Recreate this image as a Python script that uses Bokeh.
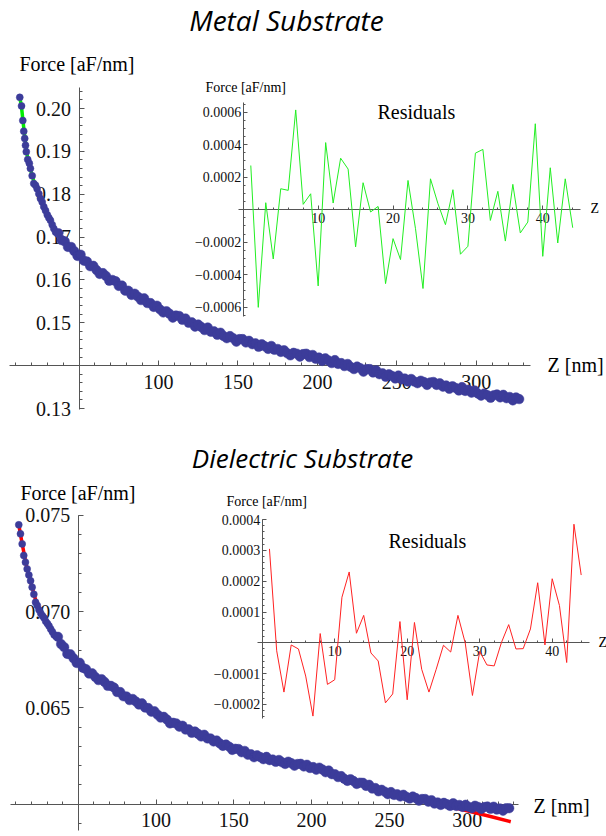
from bokeh.plotting import figure
from bokeh.layouts import column
from bokeh.models import (LinearAxis, FixedTicker, PrintfTickFormatter,
                          CustomJSTickFormatter, Range1d, Label, ColumnDataSource)
from bokeh.embed import file_html
from bokeh.resources import INLINE

# ---------------- data: Metal substrate ----------------
metal_z = [12.7, 13.8, 14.6, 15.2, 15.8, 16.3, 16.8, 17.7, 18.7, 19.4, 20.5, 21.5, 22.6,
           23.6, 24.7, 25.7, 26.8, 27.8, 28.9, 30.0, 31.0, 32.0, 33.1, 34.1, 35.2,
           37, 39, 41, 43, 45, 47, 49, 51, 53, 55, 57, 59, 61, 63, 65, 67, 69, 71, 73, 75,
           77, 79, 81, 83, 85, 87, 89, 91, 93, 95, 97, 99, 101, 103, 105, 107, 109, 111, 113, 115,
           117, 119, 121, 123, 125, 127, 129, 131, 133, 135, 137, 139, 141, 143, 145, 147, 149, 151, 153, 155,
           157, 159, 161, 163, 165, 167, 169, 171, 173, 175, 177, 179, 181, 183, 185, 187, 189, 191, 193, 195,
           197, 199, 201, 203, 205, 207, 209, 211, 213, 215, 217, 219, 221, 223, 225, 227, 229, 231, 233, 235,
           237, 239, 241, 243, 245, 247, 249, 251, 253, 255, 257, 259, 261, 263, 265, 267, 269, 271, 273, 275,
           277, 279, 281, 283, 285, 287, 289, 291, 293, 295, 297, 299, 301, 303, 305, 307, 309, 311, 313, 315,
           317, 319, 321, 323, 325, 327]
metal_force = [0.2026, 0.2006, 0.1972, 0.1947, 0.1930, 0.1914, 0.1899, 0.1881, 0.1872, 0.1860, 0.1843, 0.1825, 0.1821,
               0.1813, 0.1801, 0.1790, 0.1782, 0.1771, 0.1762, 0.1752, 0.1745, 0.1739, 0.1729, 0.1720, 0.1712,
               0.1709, 0.1693, 0.1690, 0.1677, 0.1677, 0.1667, 0.1656, 0.1659, 0.1645, 0.1643, 0.1632, 0.1633, 0.1623, 0.1614, 0.1616, 0.1609, 0.1598, 0.1600, 0.1597, 0.1586,
               0.1587, 0.1575, 0.1575, 0.1565, 0.1568, 0.1561, 0.1553, 0.1557, 0.1546, 0.1546, 0.1537, 0.1540, 0.1531, 0.1524, 0.1527, 0.1521, 0.1512, 0.1517, 0.1516, 0.1507,
               0.1510, 0.1500, 0.1501, 0.1491, 0.1496, 0.1490, 0.1483, 0.1489, 0.1479, 0.1480, 0.1472, 0.1477, 0.1469, 0.1464, 0.1469, 0.1464, 0.1456, 0.1462, 0.1462, 0.1454,
               0.1458, 0.1450, 0.1452, 0.1444, 0.1450, 0.1445, 0.1439, 0.1446, 0.1437, 0.1439, 0.1432, 0.1436, 0.1429, 0.1424, 0.1430, 0.1428, 0.1421, 0.1427, 0.1428, 0.1420,
               0.1425, 0.1416, 0.1419, 0.1411, 0.1417, 0.1412, 0.1406, 0.1413, 0.1404, 0.1406, 0.1399, 0.1404, 0.1397, 0.1392, 0.1398, 0.1394, 0.1386, 0.1392, 0.1392, 0.1384,
               0.1389, 0.1380, 0.1382, 0.1374, 0.1380, 0.1376, 0.1370, 0.1377, 0.1368, 0.1370, 0.1363, 0.1369, 0.1363, 0.1359, 0.1365, 0.1362, 0.1355, 0.1361, 0.1362, 0.1355,
               0.1359, 0.1351, 0.1354, 0.1346, 0.1352, 0.1348, 0.1342, 0.1350, 0.1341, 0.1344, 0.1337, 0.1342, 0.1335, 0.1330, 0.1335, 0.1331, 0.1325, 0.1331, 0.1333, 0.1326,
               0.1332, 0.1324, 0.1327, 0.1319, 0.1326, 0.1322]
metal_fit_z = [12.7, 13.8, 14.6, 15.5, 16.5, 17.5, 18.5, 19.5, 20.5, 22, 24, 26, 28, 30, 33, 36, 40, 45, 50, 55, 60,
               70, 80, 90, 100, 110, 120, 140, 160, 180, 200, 220, 240, 260, 280, 300, 315, 328]
metal_fit = [0.2027, 0.2003, 0.1975, 0.1945, 0.1913, 0.1888, 0.1871, 0.1857, 0.1843, 0.1825, 0.1808, 0.1789, 0.1770,
             0.1753, 0.1730, 0.1708, 0.1690, 0.1674, 0.1655, 0.1641, 0.1626, 0.1601, 0.1576, 0.1554, 0.1534, 0.1516,
             0.1502, 0.1472, 0.1452, 0.1432, 0.1418, 0.1399, 0.1383, 0.1365, 0.1354, 0.1337, 0.1328, 0.1321]
metal_res_i = list(range(1, 45))
metal_res = [0.000272, -0.000601, 0.000043, -0.000303, 0.000129, 0.000119, 0.000614, 0.000033, 0.000098, -0.000469,
             0.000413, 0.000041, 0.000317, 0.000250, -0.000229, 0.000166, -0.000014, 0.000020, -0.000455, -0.000178,
             -0.000307, 0.000180, -0.000117, -0.000485, 0.000190, 0.000037, -0.000092, 0.000123, -0.000274, -0.000225,
             0.000348, 0.000371, -0.000066, 0.000113, -0.000193, 0.000156, -0.000143, -0.000076, 0.000529, -0.000287,
             0.000258, -0.000205, 0.000190, -0.000111]

# ---------------- data: Dielectric substrate ----------------
diel_z = [11.8, 12.9, 14.0, 15.0, 16.1, 17.2, 18.3, 19.4, 20.4, 21.5, 22.6, 23.7, 24.8, 25.9, 27.0, 28.0,
          29.1, 30.2, 31.2, 32.3, 33.4, 34.5, 35.6,
          37, 39, 41, 43, 45, 47, 49, 51, 53, 55, 57, 59, 61, 63, 65, 67, 69, 71, 73, 75,
          77, 79, 81, 83, 85, 87, 89, 91, 93, 95, 97, 99, 101, 103, 105, 107, 109, 111, 113, 115,
          117, 119, 121, 123, 125, 127, 129, 131, 133, 135, 137, 139, 141, 143, 145, 147, 149, 151, 153, 155,
          157, 159, 161, 163, 165, 167, 169, 171, 173, 175, 177, 179, 181, 183, 185, 187, 189, 191, 193, 195,
          197, 199, 201, 203, 205, 207, 209, 211, 213, 215, 217, 219, 221, 223, 225, 227, 229, 231, 233, 235,
          237, 239, 241, 243, 245, 247, 249, 251, 253, 255, 257, 259, 261, 263, 265, 267, 269, 271, 273, 275,
          277, 279, 281, 283, 285, 287, 289, 291, 293, 295, 297, 299, 301, 303, 305, 307, 309, 311, 313, 315,
          317, 319, 321, 323, 325, 327]
diel_force = [0.07451, 0.07404, 0.07352, 0.07292, 0.07257, 0.07222, 0.07190, 0.07160, 0.07127, 0.07090, 0.07049,
              0.07032, 0.07010, 0.06992, 0.06978, 0.06968, 0.06950, 0.06938, 0.06926, 0.06910, 0.06895, 0.06880, 0.06872,
              0.06869, 0.06831, 0.06815, 0.06780, 0.06778, 0.06757, 0.06733, 0.06734, 0.06708, 0.06701, 0.06678, 0.06679, 0.06660, 0.06644, 0.06649, 0.06634, 0.06614, 0.06614, 0.06605, 0.06582,
              0.06582, 0.06560, 0.06559, 0.06540, 0.06546, 0.06533, 0.06517, 0.06523, 0.06501, 0.06499, 0.06480, 0.06482, 0.06464, 0.06449, 0.06453, 0.06439, 0.06419, 0.06422, 0.06419, 0.06402,
              0.06407, 0.06387, 0.06388, 0.06370, 0.06377, 0.06365, 0.06351, 0.06360, 0.06341, 0.06341, 0.06325, 0.06330, 0.06315, 0.06302, 0.06309, 0.06298, 0.06281, 0.06287, 0.06286, 0.06269,
              0.06276, 0.06256, 0.06259, 0.06243, 0.06253, 0.06244, 0.06233, 0.06245, 0.06228, 0.06231, 0.06219, 0.06229, 0.06217, 0.06208, 0.06220, 0.06212, 0.06199, 0.06208, 0.06209, 0.06195,
              0.06204, 0.06187, 0.06192, 0.06178, 0.06189, 0.06179, 0.06165, 0.06174, 0.06155, 0.06155, 0.06140, 0.06145, 0.06131, 0.06120, 0.06129, 0.06119, 0.06104, 0.06111, 0.06110, 0.06094,
              0.06100, 0.06080, 0.06083, 0.06066, 0.06074, 0.06064, 0.06051, 0.06062, 0.06047, 0.06051, 0.06039, 0.06048, 0.06037, 0.06028, 0.06039, 0.06031, 0.06017, 0.06026, 0.06026, 0.06012,
              0.06020, 0.06002, 0.06008, 0.05995, 0.06006, 0.05999, 0.05990, 0.06004, 0.05990, 0.05995, 0.05985, 0.05996, 0.05985, 0.05978, 0.05991, 0.05985, 0.05974, 0.05984, 0.05987, 0.05975,
              0.05986, 0.05971, 0.05977, 0.05965, 0.05978, 0.05978]
diel_fit_z = [11.8, 14, 17, 20, 23, 26, 30, 35, 40, 45, 50, 55, 60, 70, 80, 90, 100, 110, 120, 140, 160,
              180, 200, 220, 240, 260, 280, 300, 315, 328]
diel_fit = [0.07452, 0.07352, 0.07228, 0.07138, 0.07050, 0.06992, 0.06938, 0.06875, 0.06825, 0.06773, 0.06730,
            0.06697, 0.06667, 0.06615, 0.06562, 0.06519, 0.06470, 0.06424, 0.06390, 0.06322, 0.06262, 0.06220,
            0.06183, 0.06134, 0.06085, 0.06040, 0.06002, 0.05965, 0.05935, 0.05908]
diel_res_i = list(range(1, 45))
diel_res = [0.000305, -0.000026, -0.000160, -0.000007, -0.000020, -0.000108, -0.000238, 0.000030, -0.000135, -0.000120,
            0.000148, 0.000230, 0.000031, 0.000089, -0.000033, -0.000059, -0.000195, -0.000166, 0.000069, -0.000185,
            0.000066, -0.000086, -0.000160, -0.000086, -0.000008, -0.000030, 0.000089, 0.000000, -0.000171, -0.000028,
            -0.000072, -0.000075, 0.000001, 0.000059, -0.000020, -0.000019, 0.000045, 0.000195, -0.000007, 0.000208,
            0.000121, -0.000064, 0.000385, 0.000220]

# tick labels
metal_x_ticks = [100, 150, 200, 250, 300]
metal_y_ticks = [0.13, 0.15, 0.16, 0.17, 0.18, 0.19, 0.20]
metal_res_yticks = [-0.0006, -0.0004, -0.0002, 0.0002, 0.0004, 0.0006]
diel_x_ticks = [100, 150, 200, 250, 300]
diel_y_ticks = [0.065, 0.070, 0.075]
diel_res_yticks = [-0.0002, -0.0001, 0.0001, 0.0002, 0.0003, 0.0004]
res_x_ticks = [10, 20, 30, 40]

# ---------------- styling / layout ----------------
W = 606
H1 = 426          # top panel height (page y 0..426)
H2 = 836 - H1     # bottom panel height
DOT = "#3c3c9a"
AX = "#555555"
SERIF = "Liberation Serif"


def xmap(p0, v0, s):
    return lambda px: v0 + (px - p0) / s


def ymap(p0, v0, s, off=0):
    # p0 is a page pixel row; off is the panel's top on the page
    return lambda py: v0 - (py - (p0 - off)) / s


RES_FMT = CustomJSTickFormatter(code="""
    const s = Math.abs(tick).toFixed(4);
    return (tick < 0 ? '\\u2212' : '') + s;
""")


def style_axis(ax, size, tick_in, minor_in, standoff):
    ax.axis_line_color = AX
    ax.axis_line_width = 1
    ax.major_tick_line_color = AX
    ax.minor_tick_line_color = AX
    ax.major_tick_in = tick_in
    ax.major_tick_out = 0
    ax.minor_tick_in = minor_in
    ax.minor_tick_out = 0
    ax.major_label_text_font = SERIF
    ax.major_label_text_font_size = size
    ax.major_label_text_color = "#111111"
    ax.major_label_standoff = standoff
    ax.level = "underlay"


def add_text(p, text, x, y, size, font=SERIF, style="normal", align="left",
             xname="default", yname="default"):
    p.add_layout(Label(x=x, y=y, text=text, text_font=font, text_font_size=f"{size}px",
                       text_font_style=style, text_align=align, text_baseline="alphabetic",
                       text_color="#000000", x_range_name=xname, y_range_name=yname))


def panel(H, off, fx, fy, fix, fiy, z, f, fz, ff, fit_color, ri, rv, res_color,
          xt, xmin, xbounds, ycross, yt, ymin, ybounds, yfmt, rb_y, rt_y, rt_minor, texts):
    p = figure(width=W, height=H, output_backend="svg", toolbar_location=None,
               x_axis_type=None, y_axis_type=None, min_border=0,
               x_range=Range1d(fx(0), fx(W)), y_range=Range1d(fy(H), fy(0)))
    p.outline_line_color = None
    p.background_fill_color = "white"
    p.border_fill_color = "white"
    p.extra_x_ranges = {"rx": Range1d(fix(0), fix(W))}
    p.extra_y_ranges = {"ry": Range1d(fiy(H), fiy(0))}

    # main axes
    xa = LinearAxis(fixed_location=ycross, bounds=xbounds,
                    ticker=FixedTicker(ticks=xt, minor_ticks=xmin))
    style_axis(xa, "20px", 5, 3, 9)
    p.add_layout(xa, "below")
    ya = LinearAxis(fixed_location=50, bounds=ybounds,
                    ticker=FixedTicker(ticks=yt, minor_ticks=ymin),
                    formatter=PrintfTickFormatter(format=yfmt))
    style_axis(ya, "20px", 5, 3, 8)
    p.add_layout(ya, "left")

    # inset axes
    rxa = LinearAxis(x_range_name="rx", y_range_name="ry", fixed_location=0, bounds=(-0.7, 45.1),
                     ticker=FixedTicker(ticks=res_x_ticks, minor_ticks=[k for k in range(2, 46, 2)]))
    style_axis(rxa, "14px", 4, 2, 3)
    p.add_layout(rxa, "below")
    rya = LinearAxis(x_range_name="rx", y_range_name="ry", fixed_location=0, bounds=rb_y,
                     ticker=FixedTicker(ticks=rt_y, minor_ticks=rt_minor), formatter=RES_FMT)
    style_axis(rya, "14px", 4, 2, 2)
    p.add_layout(rya, "left")

    # glyphs: fit line under the measured points
    p.line(fz, ff, line_color=fit_color, line_width=3.5)
    # points in the steep, sparse region are drawn a little smaller, as in the original
    src = ColumnDataSource(data=dict(z=z, f=f, s=[7 if zz < 36 else 9.5 for zz in z]))
    p.scatter("z", "f", size="s", source=src, fill_color=DOT, line_color=DOT, line_width=0.5)
    p.line(ri, rv, line_color=res_color, line_width=1, x_range_name="rx", y_range_name="ry")

    # texts: positions are page pixels of the text baseline (shifted for Bokeh's baseline)
    for kind, text, px, py, size in texts:
        py = py - 0.4 * size
        if kind == "title":
            add_text(p, text, fx(px), fy(py), size, font="Open Sans", style="italic", align="center")
        elif kind == "main":
            add_text(p, text, fx(px), fy(py), size)
        else:
            add_text(p, text, fix(px), fiy(py), size, xname="rx", yname="ry")
    return p


# top panel mapping (pixel anchors, page coordinates)
tx = xmap(158, 100, 1.589)
ty = ymap(108, 0.20, 4286)
tix = xmap(242.8, 0, 7.487)
tiy = ymap(209.2, 0, 162500)

p1 = panel(H1, 0, tx, ty, tix, tiy, metal_z, metal_force, metal_fit_z, metal_fit, "#00ee00",
           metal_res_i, metal_res, "#22ee22",
           metal_x_ticks, [k for k in range(10, 340, 10) if k % 50], (6, 334), 0.14,
           metal_y_ticks, [round(0.130 + 0.002 * k, 3) for k in range(38)], (0.1297, 0.2049), "%.2f",
           (-0.00066, 0.00066), metal_res_yticks, [round(-0.00065 + 0.00005 * k, 5) for k in range(27)],
           [("title", "Metal Substrate", 286, 31, 28),
            ("main", "Force [aF/nm]", 19, 71, 20),
            ("main", "Z [nm]", 547, 372, 20),
            ("inset", "Force [aF/nm]", 205, 93, 14),
            ("inset", "Residuals", 377, 119, 20),
            ("inset", "Z", 590, 214, 14)])

# bottom panel mapping (page coordinates, panel starts at H1)
bx = xmap(155.5, 100, 1.556)
by = ymap(707.3, 0.065, 19240, H1)
bix = xmap(261.7, 0, 7.25)
biy = ymap(642.3, 0, 308000, H1)


def bp(texts):
    return [(k, t, x, y - H1, s) for k, t, x, y, s in texts]


p2 = panel(H2, H1, bx, by, bix, biy, diel_z, diel_force, diel_fit_z, diel_fit, "#ff0000",
           diel_res_i, diel_res, "#ff2222",
           diel_x_ticks, [k for k in range(10, 340, 10) if k % 50], (6.5, 333), 0.060,
           diel_y_ticks, [round(0.059 + 0.001 * k, 3) for k in range(17)], (0.0586, 0.075), "%.3f",
           (-0.000246, 0.0004), diel_res_yticks, [round(-0.00024 + 0.00002 * k, 5) for k in range(33)],
           bp([("title", "Dielectric Substrate", 302, 468, 26),
               ("main", "Force [aF/nm]", 20, 500, 20),
               ("main", "Z [nm]", 533, 813, 20),
               ("inset", "Force [aF/nm]", 226, 507, 14),
               ("inset", "Residuals", 388, 548, 20),
               ("inset", "Z", 598, 648, 14)]))

layout = column(p1, p2, spacing=0)
open("out.html", "w").write(file_html(layout, INLINE))
